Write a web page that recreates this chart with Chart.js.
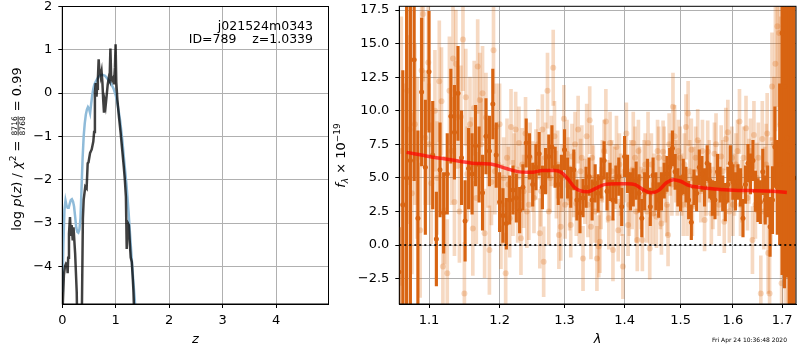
<!DOCTYPE html>
<html>
<head>
<meta charset="utf-8">
<script src="https://cdn.jsdelivr.net/npm/chart.js@4.4.1/dist/chart.umd.min.js"></script>
<style>
  html, body { margin: 0; padding: 0; background: #fff; }
  #wrap { position: relative; width: 800px; height: 350px; overflow: hidden; }
  #pzBox { position: absolute; left: 0; top: 0; }
  #specBox { position: absolute; left: 330px; top: 0; }
</style>
</head>
<body>
<div id="wrap">
  <div id="pzBox"><canvas id="pzChart" width="335" height="350"></canvas></div>
  <div id="specBox"><canvas id="specChart" width="470" height="350"></canvas></div>
</div>
<script>
// ---- p(z) panel ----
const zTicks = [0, 1, 2, 3, 4];
const pzTicks = [-4, -3, -2, -1, 0, 1, 2];

const priorZ = [0.00,0.02,0.04,0.06,0.08,0.10,0.12,0.14,0.16,0.18,0.20,0.22,0.24,0.26,0.28,0.30,0.32,0.34,0.36,0.38,
  0.40,0.42,0.44,0.46,0.48,0.50,0.52,0.54,0.56,0.58,0.60,0.64,0.68,0.72,0.76,0.80,0.84,0.88,0.92,0.96,
  1.00,1.04,1.08,1.12,1.16,1.20,1.24,1.28,1.32,1.36,1.40];
const priorLogp = [-4.6,-3.5,-2.7,-2.48,-2.6,-2.65,-2.65,-2.55,-2.47,-2.45,-2.5,-2.62,-2.85,-3.1,-3.2,-3.22,-3.15,-2.9,-2.2,-1.5,
  -1.0,-0.7,-0.5,-0.38,-0.32,-0.36,-0.46,-0.25,-0.05,0.1,0.2,0.3,0.38,0.42,0.42,0.4,0.34,0.28,0.2,0.1,
  -0.05,-0.3,-0.62,-1.05,-1.6,-2.1,-2.75,-3.5,-4.2,-4.85,-5.5];

const chiZ = [0.000,0.010,0.030,0.050,0.070,0.090,0.100,0.110,0.125,0.144,0.160,0.175,0.195,0.210,0.240,0.270,0.300,0.340,0.365,0.385,
  0.400,0.430,0.455,0.475,0.490,0.520,0.550,0.580,0.595,0.610,0.625,0.640,0.650,0.665,0.680,0.695,0.705,0.720,0.735,0.750,
  0.765,0.780,0.795,0.810,0.830,0.850,0.870,0.885,0.900,0.915,0.930,0.950,0.965,0.985,0.997,1.010,1.030,1.060,1.090,1.120,
  1.150,1.170,1.190,1.205,1.225,1.245,1.265,1.280,1.300,1.315,1.330,1.350];
const chiLogp = [-5.5,-4.85,-4.2,-4.0,-3.94,-3.97,-4.16,-3.8,-3.24,-2.86,-3.3,-3.05,-3.4,-3.1,-3.7,-4.6,-7,-7,-5.2,-2.9,
  -2.46,-2.16,-2.2,-1.62,-1.6,-1.38,-1.3,-1.12,-0.9,0.0,0.23,-0.08,0.1,0.3,0.78,0.5,0.55,0.4,0.5,0.25,
  -0.15,-0.45,-0.2,-0.3,-0.05,0.2,0.35,0.3,1.03,0.35,0.3,0.35,0.2,0.6,1.13,0.25,-0.15,-0.55,-0.9,-1.3,
  -1.7,-2.0,-2.4,-3.6,-3.0,-3.05,-3.5,-3.8,-3.9,-4.2,-4.55,-5.3];

// ---- spectrum panel ----
const lamTicks = [1.1, 1.2, 1.3, 1.4, 1.5, 1.6, 1.7];
const fluxTicks = [-2.5, 0, 2.5, 5, 7.5, 10, 12.5, 15, 17.5];

const darkLam = [1.060,1.065,1.070,1.075,1.080,1.085,1.090,1.095,1.100,1.105,
  1.110,1.115,1.120,1.125,1.130,1.135,1.140,1.145,1.150,1.155,
  1.160,1.165,1.170,1.175,1.180,1.185,1.190,1.195,1.200,1.205,
  1.210,1.215,1.220,1.225,1.230,1.235,1.240,1.245,1.250,1.255,
  1.260,1.265,1.270,1.275,1.280,1.285,1.290,1.295,1.300,1.305,
  1.310,1.315,1.320,1.325,1.330,1.335,1.340,1.345,1.350,1.355,
  1.360,1.365,1.370,1.375,1.380,1.385,1.390,1.395,1.400,1.405,
  1.410,1.415,1.420,1.425,1.430,1.435,1.440,1.445,1.450,1.455,
  1.460,1.465,1.470,1.475,1.480,1.485,1.490,1.495,1.500,1.505,
  1.510,1.515,1.520,1.525,1.530,1.535,1.540,1.545,1.550,1.555,
  1.560,1.565,1.570,1.575,1.580,1.585,1.590,1.595,1.600,1.605,
  1.610,1.615,1.620,1.625,1.630,1.635,1.640,1.645,1.650,1.655,
  1.660,1.665,1.670,1.675,1.680,1.685,1.690,1.695,1.700,1.705,
  1.710,1.715,1.720,1.725];
const darkFlux = [-2.0,3.0,5.0,6.3,13.8,2.0,11.4,5.8,12.9,6.7,
  0.45,5.6,2.4,5.3,9.6,8.4,11.3,6.5,1.8,5.7,
  5.3,7.4,6.0,3.9,8.1,7.0,10.5,6.7,3.2,2.2,
  1.6,3.35,4.1,3.5,2.6,4.3,7.6,6.6,4.5,5.8,
  6.8,4.3,5.5,6.6,7.3,5.8,4.5,5.1,7.1,5.0,
  4.3,5.6,3.35,2.4,3.5,4.3,5.1,3.35,4.6,3.85,
  5.0,6.3,4.0,4.7,3.35,4.5,5.1,2.85,6.6,5.3,
  4.0,4.3,4.8,3.85,2.0,4.0,5.1,2.85,5.2,4.0,
  3.35,4.0,4.8,5.3,5.8,7.2,5.45,4.3,3.85,5.1,
  4.5,3.35,1.7,4.3,3.85,5.8,5.3,4.3,6.1,4.8,
  3.5,3.35,5.45,4.5,3.85,3.2,4.5,6.1,4.7,4.0,
  4.7,4.3,2.0,4.5,6.1,5.3,6.3,4.0,3.35,3.2,
  5.45,3.35,4.0,1.36,3.35,7.3,4.3,6.0,15.8,11.8,
  8.0,7.0,6.0,5.0];
const darkErr = [3.3,10,14,12,9,6.5,5.5,5,4.5,4,
  3.5,3.5,3,3,3.5,3.5,3.5,3.5,3,3,
  3,3,2.8,2.8,2.8,2.6,2.6,2.4,2.2,2,
  1.9,1.8,1.8,1.8,1.7,1.7,1.8,1.7,1.6,1.7,
  1.6,1.6,1.7,1.6,1.6,1.5,1.5,1.6,1.5,1.5,
  1.5,1.5,1.5,1.5,1.4,1.5,1.4,1.5,1.4,1.4,
  1.5,1.4,1.4,1.4,1.5,1.4,1.4,1.4,1.5,1.4,
  1.4,1.4,1.4,1.4,1.4,1.4,1.3,1.4,1.3,1.4,
  1.3,1.4,1.3,1.3,1.4,1.3,1.3,1.4,1.3,1.3,
  1.3,1.4,1.3,1.3,1.3,1.3,1.3,1.4,1.3,1.3,
  1.3,1.4,1.3,1.3,1.3,1.4,1.3,1.3,1.3,1.4,
  1.3,1.4,1.4,1.4,1.4,1.5,1.5,1.5,1.6,1.6,
  1.7,1.8,1.9,2.2,2.5,3,3.5,6,18,15,
  10.4,18,16,18];

const lightLam = [1.063,1.067,1.071,1.074,1.077,1.081,1.084,1.088,1.090,1.092,
  1.095,1.099,1.103,1.108,1.114,1.117,1.119,1.121,1.125,1.128,
  1.133,1.135,1.137,1.142,1.144,1.147,1.149,1.153,1.157,1.161,
  1.163,1.168,1.171,1.175,1.178,1.183,1.185,1.188,1.191,1.195,
  1.198,1.202,1.206,1.209,1.213,1.217,1.220,1.224,1.229,1.232,
  1.236,1.239,1.244,1.250,1.255,1.261,1.265,1.267,1.273,1.277,
  1.282,1.284,1.287,1.291,1.294,1.299,1.304,1.308,1.312,1.319,
  1.322,1.326,1.330,1.333,1.336,1.341,1.343,1.347,1.353,1.356,
  1.358,1.362,1.368,1.371,1.375,1.380,1.383,1.386,1.389,1.393,
  1.397,1.403,1.408,1.411,1.415,1.422,1.426,1.431,1.436,1.441,
  1.444,1.450,1.456,1.460,1.465,1.468,1.472,1.477,1.481,1.486,
  1.489,1.494,1.499,1.505,1.510,1.514,1.520,1.525,1.532,1.538,
  1.545,1.551,1.558,1.564,1.570,1.577,1.583,1.586,1.590,1.595,
  1.600,1.606,1.613,1.618,1.626,1.632,1.639,1.642,1.648,1.656,
  1.659,1.664,1.669,1.671,1.674,1.679,1.686,1.690,1.694,1.699,
  1.703,1.708,1.713,1.718,
  // points hidden among the crowd
  1.100,1.111,1.131,1.139,1.151,1.159,1.166,1.173,1.180,1.193,
  1.200,1.204,1.211,1.215,1.222,1.227,1.234,1.241,1.246,1.252,
  1.258,1.263,1.270,1.275,1.279,1.289,1.296,1.301,1.306,1.310,
  1.315,1.317,1.324,1.328,1.338,1.345,1.350,1.360,1.365,1.373,
  1.378,1.391,1.395,1.400,1.406,1.413,1.418,1.420,1.424,1.429,
  1.434,1.439,1.447,1.452,1.458,1.463,1.470,1.475,1.479,1.484,
  1.491,1.496,1.502,1.507,1.512,1.517,1.522,1.528,1.535,1.541,
  1.548,1.554,1.561,1.567,1.573,1.580,1.593,1.598,1.603,1.609,
  1.615,1.621,1.629,1.635,1.645,1.651,1.662,1.667,1.677,1.683,
  1.697];
const lightFlux = [7.0,3.0,11.5,8.6,3.85,9.0,6.5,1.1,13.0,17.2,
  8.0,13.6,4.6,10.0,12.2,10.7,-1.6,2.6,-2.1,11.5,
  13.9,3.2,13.5,2.5,9.55,15.3,-3.6,5.3,9.0,1.24,
  10.2,13.3,10.8,11.3,0.87,6.1,-0.37,4.7,14.5,8.8,
  6.0,1.24,5.0,-2.1,4.5,8.8,3.5,8.6,7.6,0.5,
  4.0,8.3,3.0,5.1,6.0,0.87,8.6,-1.24,11.5,5.0,
  13.2,8.1,4.5,0.74,1.36,9.4,6.8,3.5,6.6,3.1,
  8.6,5.5,-1.0,4.0,8.1,9.3,1.36,5.0,-1.0,-0.1,
  0.25,5.5,9.2,4.0,7.6,-0.37,5.0,7.3,1.1,4.5,
  -1.6,8.3,3.0,5.5,7.6,0.37,5.0,0.37,6.0,7.6,
  -0.25,2.35,2.1,6.5,1.6,6.95,4.0,0.74,6.0,10.3,
  8.1,4.5,6.5,3.0,8.8,9.8,7.1,5.0,7.8,4.0,
  1.86,6.95,2.35,6.8,4.5,6.6,1.74,7.9,8.4,5.0,
  3.0,6.0,9.2,4.0,8.7,5.5,0.37,8.2,5.0,-3.6,
  7.9,4.5,8.3,-0.6,-3.6,11.8,13.5,16.3,15.8,-2.85,
  8.0,5.0,3.0,7.0,
  7.5,5.0,7.0,9.5,11.0,6.0,3.5,7.5,9.5,5.5,
  9.0,3.0,6.5,2.0,5.5,3.0,6.0,2.5,6.5,3.5,
  7.5,4.0,6.5,2.5,7.0,6.0,5.0,3.0,5.5,1.5,
  4.5,7.5,2.5,6.5,3.0,6.5,2.5,3.5,7.0,2.0,
  5.5,6.0,3.0,5.5,1.5,3.5,6.5,2.5,7.0,3.5,
  5.5,2.5,6.0,4.5,7.0,3.5,6.5,3.0,7.5,4.5,
  5.5,7.0,4.5,6.0,3.0,5.5,3.0,6.5,5.5,7.0,
  4.5,5.5,3.5,7.5,3.0,5.5,2.5,6.5,4.5,7.0,
  3.0,6.5,3.5,7.0,3.0,6.5,2.5,6.0,4.0,7.5,
  9.0];
const lightErr = [10,9,7,7,6,6,6,5,5,5,
  5,5,4.5,4.5,4.5,4,4,4,4,4,
  4,4,4,3.8,3.8,3.8,3.8,3.5,3.5,3.5,
  3.5,3.5,3.5,3.5,3.3,3.3,3.3,3.2,3.2,3.2,
  3,3,3,3,2.8,2.8,2.8,2.8,2.7,2.7,
  2.7,2.7,2.6,2.6,2.6,2.6,2.6,2.6,2.8,2.5,
  2.8,2.6,2.5,2.5,2.5,2.5,2.5,2.4,2.4,2.4,
  2.5,2.4,2.4,2.4,2.4,2.5,2.4,2.4,2.4,2.3,
  2.3,2.3,2.4,2.3,2.3,2.3,2.3,2.3,2.3,2.3,
  2.4,2.3,2.3,2.3,2.3,2.3,2.3,2.3,2.3,2.3,
  2.3,2.3,2.3,2.3,2.3,2.3,2.3,2.3,2.3,2.5,
  2.3,2.3,2.3,2.3,2.4,2.4,2.3,2.3,2.3,2.3,
  2.3,2.3,2.3,2.3,2.3,2.3,2.3,2.3,2.4,2.3,
  2.3,2.3,2.4,2.3,2.4,2.4,2.5,2.5,2.6,2.8,
  2.8,2.8,3,3,3.5,4,5,6,7,6,
  10,12,14,15,
  4.5,4.2,4,3.8,3.6,3.5,3.4,3.4,3.3,3.2,
  3.0,3,2.9,2.9,2.8,2.8,2.7,2.7,2.6,2.6,
  2.6,2.6,2.6,2.5,2.6,2.5,2.5,2.5,2.5,2.4,
  2.4,2.4,2.4,2.4,2.4,2.4,2.3,2.3,2.3,2.3,
  2.3,2.3,2.3,2.3,2.3,2.3,2.3,2.3,2.3,2.3,
  2.3,2.3,2.3,2.3,2.3,2.3,2.3,2.3,2.3,2.3,
  2.3,2.3,2.3,2.3,2.3,2.3,2.3,2.3,2.3,2.3,
  2.3,2.3,2.3,2.3,2.3,2.3,2.3,2.3,2.3,2.3,
  2.3,2.3,2.4,2.4,2.5,2.6,2.8,3.0,4.0,5.0,
  8.0];

const modelLam = [1.070,1.100,1.130,1.160,1.190,1.210,1.230,1.250,1.265,1.285,1.295,1.305,1.315,1.325,1.338,1.350,1.365,
  1.385,1.405,1.418,1.432,1.447,1.460,1.474,1.487,1.500,1.515,1.540,1.575,1.610,1.645,1.680,1.710];
const modelFlux = [6.9,6.6,6.35,6.1,6.0,5.7,5.45,5.42,5.55,5.55,5.4,4.95,4.35,4.05,3.97,4.2,4.5,
  4.57,4.57,4.5,4.13,3.9,4.07,4.64,4.87,4.75,4.45,4.27,4.14,4.07,4.05,4.0,3.92];
const zeroLevel = 0;

const fieldName = 'j021524m0343';
const objId = 789;
const zBest = '1.0339';
const chiNum = '8716', chiDen = '8768', chiRatio = '0.99';
const stamp = 'Fri Apr 24 10:36:48 2020';

const FONT = "'DejaVu Sans', sans-serif";
const tickFont = { family: "'DejaVu Sans', sans-serif", size: 13 };
const minus = s => String(s).replace('-', '\u2212');
const pts = (xs, ys) => xs.map((x, i) => ({ x: x, y: ys[i] }));
const errBars = (xs, ys, es) => xs.map((x, i) => ({ x: x, y: [ys[i] - es[i], ys[i] + es[i]] }));

const ORANGE = 'rgb(216,100,18)';
const PEACH = 'rgba(217,95,2,0.24)';

function gridOpts() {
  return { color: '#b0b0b0', lineWidth: 1, tickColor: '#000', tickLength: 4, tickWidth: 1, offset: false };
}

// spines on all four sides
const framePlugin = {
  id: 'frame',
  afterDraw(chart) {
    const { ctx, chartArea: a } = chart;
    ctx.save();
    ctx.strokeStyle = '#000';
    ctx.lineWidth = 1;
    ctx.strokeRect(a.left, a.top, a.right - a.left, a.bottom - a.top);
    ctx.restore();
  }
};

// draw a row of text runs along the (possibly rotated) baseline
function drawRuns(ctx, runs, centerX) {
  let total = 0;
  runs.forEach(r => {
    ctx.font = r.f;
    r.w = r.frac ? Math.max(...r.frac.map(s => ctx.measureText(s).width)) + 2 : ctx.measureText(r.t).width;
    total += r.w;
  });
  let x = centerX - total / 2;
  runs.forEach(r => {
    ctx.font = r.f;
    if (r.frac) {
      ctx.textAlign = 'center';
      ctx.fillText(r.frac[0], x + r.w / 2, -4.2);
      ctx.fillText(r.frac[1], x + r.w / 2, 4.2);
      ctx.fillRect(x + 1, -3.3, r.w - 2, 0.8);
      ctx.textAlign = 'left';
    } else {
      ctx.textAlign = 'left';
      ctx.fillText(r.t, x, r.dy || 0);
    }
    x += r.w;
  });
}

const pzText = {
  id: 'pzText',
  afterDraw(chart) {
    const { ctx, chartArea: a } = chart;
    ctx.save();
    ctx.fillStyle = '#000';
    ctx.textBaseline = 'alphabetic';
    ctx.font = `12.5px ${FONT}`;
    ctx.textAlign = 'right';
    ctx.fillText(fieldName, 313, 30);
    ctx.fillText(`ID=${objId}    z=${zBest}`, 313, 43.3);

    ctx.font = `italic 13px ${FONT}`;
    ctx.textAlign = 'center';
    ctx.fillText('z', (a.left + a.right) / 2, 343);

    ctx.translate(21, 149);
    ctx.rotate(-Math.PI / 2);
    const big = `13px ${FONT}`, bigI = `italic 13px ${FONT}`;
    drawRuns(ctx, [
      { t: 'log ', f: big }, { t: 'p', f: bigI }, { t: '(', f: big }, { t: 'z', f: bigI }, { t: ')', f: big },
      { t: ' / ', f: big }, { t: '\u03c7', f: bigI }, { t: '2', f: `9px ${FONT}`, dy: -5.5 },
      { t: ' = ', f: big }, { frac: [chiNum, chiDen], f: `7.5px ${FONT}` }, { t: ' = ', f: big }, { t: chiRatio, f: big }
    ], 0);
    ctx.restore();
  }
};

const specText = {
  id: 'specText',
  afterDraw(chart) {
    const { ctx, chartArea: a } = chart;
    ctx.save();
    ctx.fillStyle = '#000';
    ctx.textBaseline = 'alphabetic';
    ctx.font = `italic 13px ${FONT}`;
    ctx.textAlign = 'center';
    ctx.fillText('\u03bb', (a.left + a.right) / 2, 343);

    ctx.font = `6px ${FONT}`;
    ctx.textAlign = 'right';
    ctx.fillText(stamp, 457, 342);

    ctx.translate(15, 155.5);
    ctx.rotate(-Math.PI / 2);
    drawRuns(ctx, [
      { t: 'f', f: `italic 13px ${FONT}` }, { t: '\u03bb', f: `italic 9px ${FONT}`, dy: 3 },
      { t: ' \u00d7 10', f: `13px ${FONT}` }, { t: '\u221219', f: `9px ${FONT}`, dy: -5.5 }
    ], 0);
    ctx.restore();
  }
};

new Chart(document.getElementById('pzChart'), {
  type: 'line',
  data: {
    datasets: [
      { data: pts(chiZ, chiLogp), borderColor: 'rgba(0,0,0,0.75)', borderWidth: 2.5, pointRadius: 0, tension: 0, order: 0 },
      { data: pts(priorZ, priorLogp), borderColor: '#8fbbd9', borderWidth: 2.5, pointRadius: 0, tension: 0, order: 1 }
    ]
  },
  options: {
    animation: false, responsive: false, events: [],
    layout: { padding: { left: 0, top: 6.5, right: 6.5, bottom: 0 } },
    plugins: { legend: { display: false }, tooltip: { enabled: false } },
    scales: {
      x: {
        type: 'linear', min: 0, max: 4.98,
        afterBuildTicks: s => { s.ticks = zTicks.map(v => ({ value: v })); },
        afterFit: s => { s.height = 46; s.paddingLeft = 0; s.paddingRight = 0; },
        ticks: { font: tickFont, color: '#000', padding: 5, maxRotation: 0, autoSkip: false, callback: v => minus(v) },
        grid: gridOpts(), border: { color: '#000' }
      },
      y: {
        type: 'linear', min: -4.87, max: 2,
        afterBuildTicks: s => { s.ticks = pzTicks.map(v => ({ value: v })); },
        afterFit: s => { s.width = 62.3; s.paddingTop = 0; s.paddingBottom = 0; },
        ticks: { font: tickFont, color: '#000', padding: 6, autoSkip: false, callback: v => minus(v) },
        grid: gridOpts(), border: { color: '#000' }
      }
    }
  },
  plugins: [framePlugin, pzText]
});

new Chart(document.getElementById('specChart'), {
  type: 'scatter',
  data: {
    datasets: [
      { type: 'line', data: [{ x: 1.0604, y: zeroLevel }, { x: 1.7294, y: zeroLevel }], borderColor: 'rgba(0,0,0,0.85)',
        borderWidth: 2, borderDash: [2, 3], pointRadius: 0, order: 0 },
      { type: 'line', data: pts(modelLam, modelFlux), borderColor: 'rgba(255,0,0,0.7)', borderWidth: 3.5,
        pointRadius: 0, cubicInterpolationMode: 'monotone', order: 1 },
      { type: 'line', data: pts(darkLam, darkFlux), showLine: false, pointRadius: 2.5, pointBorderWidth: 0,
        pointBackgroundColor: ORANGE, order: 2 },
      { type: 'bar', data: errBars(darkLam, darkFlux, darkErr), backgroundColor: ORANGE, borderWidth: 0,
        grouped: false, barThickness: 2.5, barPercentage: 1, order: 3 },
      { type: 'line', data: pts(lightLam, lightFlux), showLine: false, pointRadius: 3, pointBorderWidth: 0,
        pointBackgroundColor: PEACH, order: 4 },
      { type: 'bar', data: errBars(lightLam, lightFlux, lightErr), backgroundColor: PEACH, borderWidth: 0,
        grouped: false, barThickness: 3, barPercentage: 1, order: 5 }
    ]
  },
  options: {
    animation: false, responsive: false, events: [],
    layout: { padding: { left: 0, top: 6.3, right: 1, bottom: 0 } },
    plugins: { legend: { display: false }, tooltip: { enabled: false } },
    scales: {
      x: {
        type: 'logarithmic', min: 1.0604, max: 1.7294, offset: false,
        afterBuildTicks: s => { s.ticks = lamTicks.map(v => ({ value: v })); },
        afterFit: s => { s.height = 46; s.paddingLeft = 0; s.paddingRight = 0; },
        ticks: { font: tickFont, color: '#000', padding: 5, maxRotation: 0, autoSkip: false, callback: v => v.toFixed(1) },
        grid: gridOpts(), border: { color: '#000' }
      },
      y: {
        type: 'linear', min: -4.39, max: 17.78,
        afterBuildTicks: s => { s.ticks = fluxTicks.map(v => ({ value: v })); },
        afterFit: s => { s.width = 69.3; s.paddingTop = 0; s.paddingBottom = 0; },
        ticks: { font: tickFont, color: '#000', padding: 6, autoSkip: false, callback: v => minus(v.toFixed(1)) },
        grid: gridOpts(), border: { color: '#000' }
      }
    }
  },
  plugins: [framePlugin, specText]
});
</script>
</body>
</html>
